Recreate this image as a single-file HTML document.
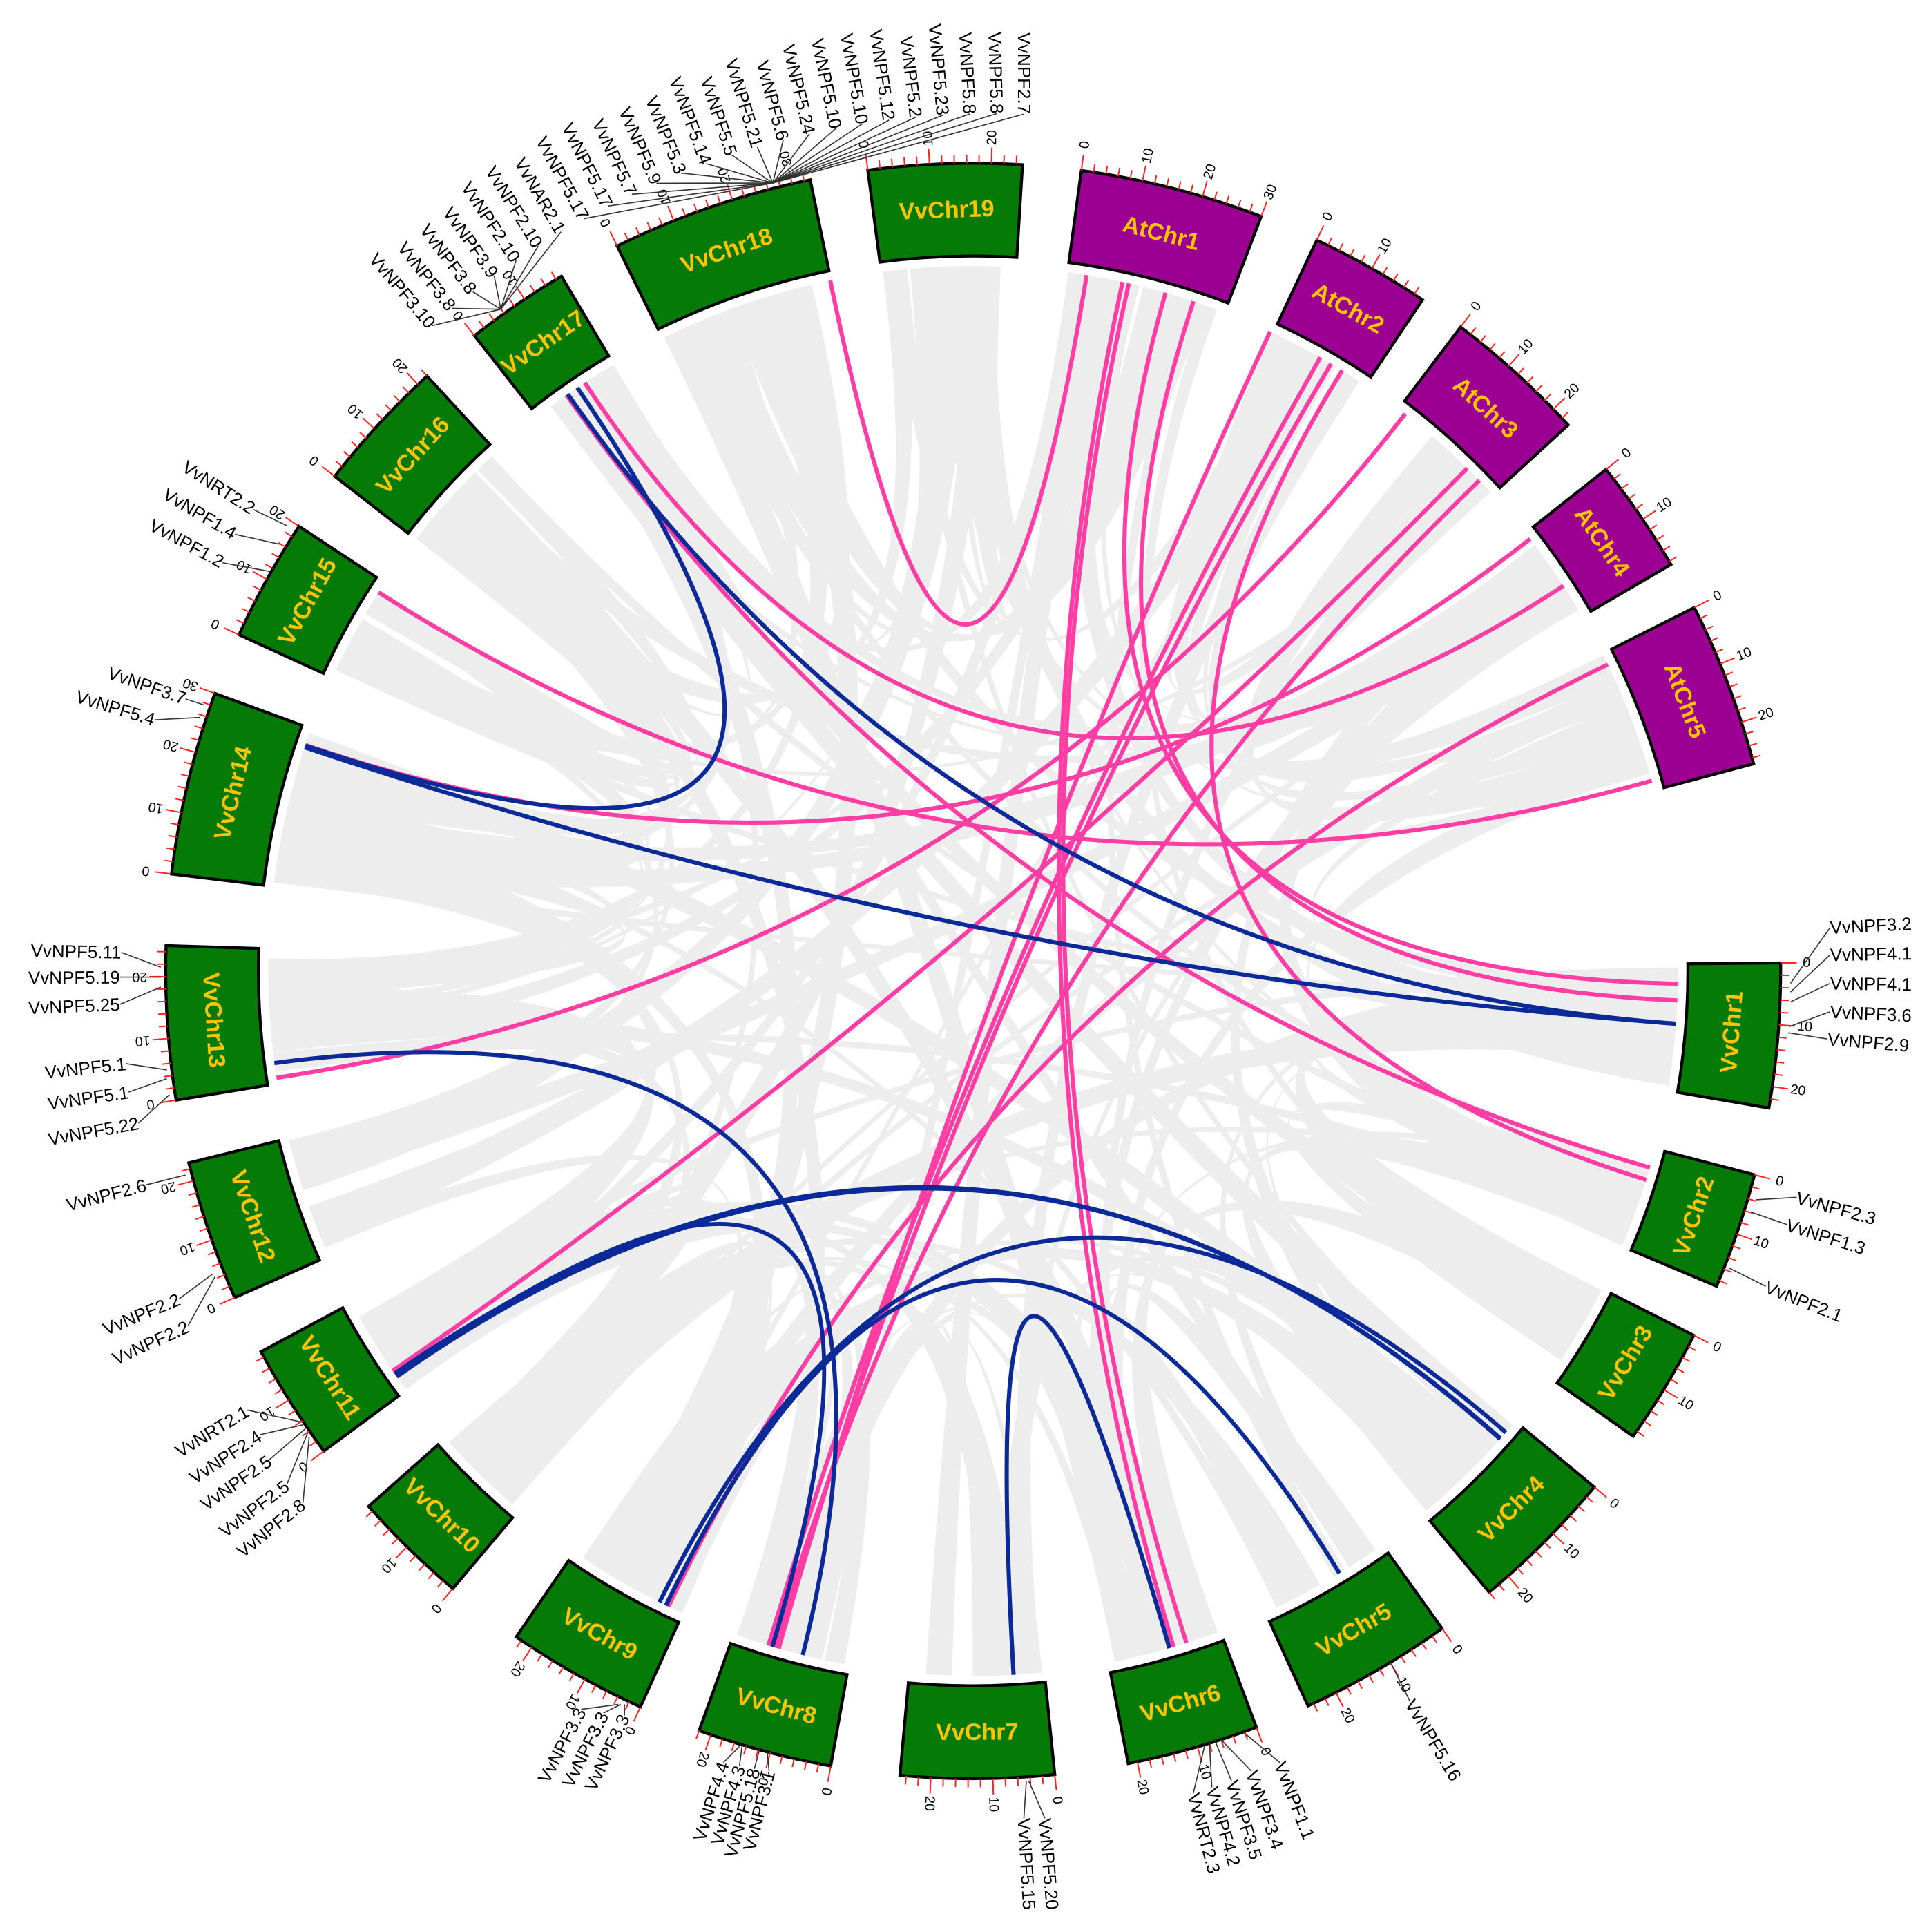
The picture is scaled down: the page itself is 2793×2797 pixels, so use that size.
<!DOCTYPE html>
<html><head><meta charset="utf-8">
<style>
html,body{margin:0;padding:0;background:#fff;}
svg{display:block;}
text{font-family:"Liberation Sans",Arial,sans-serif;}
</style></head>
<body>
<svg id="s" xmlns="http://www.w3.org/2000/svg" width="2793" height="2797" viewBox="0 0 1560 1562" preserveAspectRatio="none">
<g id="rib"></g><g id="links"></g><g id="boxes"></g><g id="ticks"></g><g id="glab"></g>
</svg>
<script>
var NS="http://www.w3.org/2000/svg";
var cx=787,cy=785,R1=578,R2=653,RL=570;
function rad(a){return a*Math.PI/180;}
function P(a,r){return [cx+r*Math.sin(rad(a)),cy-r*Math.cos(rad(a))];}
function f(p){return p[0].toFixed(1)+","+p[1].toFixed(1);}
function el(tag,attrs,parent,txt){var e=document.createElementNS(NS,tag);for(var k in attrs)e.setAttribute(k,attrs[k]);if(txt!==undefined)e.textContent=txt;document.getElementById(parent).appendChild(e);return e;}
function ang(x,y){var a=Math.atan2(x-cx,-(y-cy))*180/Math.PI;if(a<0)a+=360;return a;}
var D=0.44;
var chr=[
["VvChr19",358,25,0],["AtChr1",14.3,30,1],["AtChr2",29.5,19.6,1],["AtChr3",42.3,23.5,1],["AtChr4",55.7,18.6,1],["AtChr5",69.2,27,1],
["VvChr1",94.6,23.5,0],["VvChr2",108.8,19,0],["VvChr3",121,19,0],["VvChr4",135,24,0],["VvChr5",150,25,0],["VvChr6",164.2,21.5,0],
["VvChr7",179.7,25,0],["VvChr8",195,22,0],["VvChr9",209.4,23,0],["VvChr10",224.3,19,0],["VvChr11",237.7,19,0],["VvChr12",251.2,23,0],
["VvChr13",266.3,25,0],["VvChr14",283.5,30,0],["VvChr15",299,20,0],["VvChr16",312.6,22,0],["VvChr17",325.6,17,0],["VvChr18",341.1,33,0]];
var seed=12345;function rnd(){seed=(seed*1103515245+12345)%2147483648;return seed/2147483648;}
var rib="";
for(var i=0;i<170;i++){
 var i1=Math.floor(rnd()*chr.length),i2;
 if(rnd()<0.45){i2=(i1+(rnd()<0.5?1:-1)*(1+Math.floor(rnd()*3))+chr.length)%chr.length;}else{i2=Math.floor(rnd()*chr.length);}
 var c1=chr[i1],c2=chr[i2];
 if(c1===c2)continue;
 var s1=c1[2]*D,s2=c2[2]*D;
 var w=0.6+rnd()*2.2;
 var a1=c1[1]-s1/2+rnd()*(s1-w),b1=c2[1]-s2/2+rnd()*(s2-w);
 var p1=P(a1,RL),p2=P(a1+w,RL),q1=P(b1,RL),q2=P(b1+w,RL);
 rib+="M"+f(p1)+"A"+RL+","+RL+" 0 0 1 "+f(p2)+"Q"+cx+","+cy+" "+f(q1)+"A"+RL+","+RL+" 0 0 1 "+f(q2)+"Q"+cx+","+cy+" "+f(p1)+"Z";
}
el("path",{d:rib,fill:"#ededed",stroke:"none"},"rib");
chr.forEach(function(c){
 var s=c[2]*D,a1=c[1]-s/2,a2=c[1]+s/2;
 var d="M"+f(P(a1,R1))+"A"+R1+","+R1+" 0 0 1 "+f(P(a2,R1))+"L"+f(P(a2,R2))+"A"+R2+","+R2+" 0 0 0 "+f(P(a1,R2))+"Z";
 el("path",{d:d,fill:c[3]?"#9c0092":"#067a06",stroke:"#000","stroke-width":2.4},"boxes");
 var a=c[1],rot=(a>90&&a<270)?a-180:a;if(rot>180)rot-=360;
 var p=P(a,(R1+R2)/2);
 el("text",{x:0,y:0,transform:"translate("+f(p)+") rotate("+rot+")","text-anchor":"middle","dominant-baseline":"central","font-size":19,"font-weight":"bold",fill:"#ffc400"},"boxes",c[0]);
 var td="";
 for(var u=0;u<=c[2];u+=2){
  var aa=a1+u*D,big=(u%10==0),o=P(aa,R2),e=P(aa,R2+(big?13:7));
  td+="M"+f(o)+"L"+f(e);
  if(big){var tp=P(aa,R2+21);
   el("text",{x:0,y:0,transform:"translate("+f(tp)+") rotate("+(aa-90)+")","text-anchor":"middle","dominant-baseline":"central","font-size":11,fill:"#000"},"ticks",String(u));}
 }
 el("path",{d:td,stroke:"#ff2020","stroke-width":1.1,fill:"none"},"ticks");
});
function link(a,b,col){var p=P(ang(a[0],a[1]),RL),q=P(ang(b[0],b[1]),RL);
 el("path",{d:"M"+f(p)+"Q"+cx+","+cy+" "+f(q),stroke:col,"stroke-width":3.4,fill:"none"},"links");}
var pink="#ff3ea5",blue="#0b2a98";
[[[670,220],[880,215]],[[455,315],[1338,945]],[[470,305],[1270,470]],[[300,475],[1340,630]],[[240,600],[1245,430]],
[[220,872],[1140,330]],[[315,1110],[1190,375]],[[540,1300],[1305,535]],[[620,1335],[1070,285]],[[625,1335],[1200,385]],
[[630,1332],[1030,262]],[[950,1335],[910,218]],[[960,1330],[915,220]],[[1340,795],[945,228]],[[1338,808],[968,235]],
[[1335,955],[1090,292]],[[628,1334],[1080,288]]].forEach(function(l){link(l[0],l[1],pink);});
[[[460,320],[1360,828]],[[470,318],[245,602]],[[240,602],[1360,828]],[[218,860],[650,1335]],[[318,1115],[1215,1165]],
[[320,1110],[1210,1160]],[[320,1112],[625,1330]],[[535,1292],[1220,1160]],[[820,1360],[945,1330]],[[540,1295],[1085,1275]]].forEach(function(l){link(l[0],l[1],blue);});
function glab(name,ex,ey,ax,ay,rot,anchor){
 el("path",{d:"M"+ax+","+ay+"L"+ex+","+ey,stroke:"#333","stroke-width":0.9,fill:"none"},"glab");
 var t=ang(ex,ey);
 if(rot===null){if(t>5&&t<185){rot=t-90;anchor="start";}else{rot=t+90;anchor="end";}}
 el("text",{x:0,y:0,transform:"translate("+ex+","+ey+") rotate("+rot.toFixed(1)+")","text-anchor":anchor,"dominant-baseline":"central","font-size":14.5,fill:"#000"},"glab",name);
}
var fan=["VvNPF3.10","VvNPF3.8","VvNPF3.8","VvNPF3.9","VvNPF2.10","VvNPF2.10","VvNAR2.1","VvNPF5.17","VvNPF5.17","VvNPF5.7","VvNPF5.9","VvNPF5.3","VvNPF5.14","VvNPF5.5","VvNPF5.21","VvNPF5.6","VvNPF5.24","VvNPF5.10","VvNPF5.10","VvNPF5.12","VvNPF5.2","VvNPF5.23","VvNPF5.8","VvNPF5.8","VvNPF2.7"];
var n=fan.length;
for(var i=0;i<n;i++){var k=i/(n-1);var th=320+k*43.4,r=681+k*13;var p=P(th,r);
 var at=i<7?[405,250]:[625,148];
 glab(fan[i],p[0].toFixed(1),p[1].toFixed(1),at[0],at[1],50+k*40,"end");}
var L=[
["VvNRT2.2",205,412,232,425],["VvNPF1.4",190,432,226,440],["VvNPF1.2",180,455,218,462],
["VvNPF3.7",150,565,165,570],["VvNPF5.4",125,582,162,580],
["VvNPF5.11",98,770,130,782],["VvNPF5.19",97,790,130,790],["VvNPF5.25",97,812,130,798],
["VvNPF5.1",102,860,135,865],["VvNPF5.1",104,883,135,872],["VvNPF5.22",112,908,137,885],
["VvNPF2.6",118,958,150,950],["VvNPF2.2",145,1050,172,1030],["VvNPF2.2",152,1072,174,1032],
["VvNRT2.1",200,1140,245,1150],["VvNPF2.4",210,1160,245,1152],["VvNPF2.5",218,1180,247,1155],["VvNPF2.5",232,1200,249,1158],["VvNPF2.8",245,1215,250,1162],
["VvNPF3.3",470,1382,500,1378],["VvNPF3.3",488,1385,502,1378],["VvNPF3.3",505,1387,505,1378],
["VvNPF4.4",585,1425,598,1412],["VvNPF4.3",598,1428,600,1412],["VvNPF5.18",610,1430,615,1412],["VvNPF3.1",622,1432,620,1412],
["VvNPF5.15",828,1470,830,1440],["VvNPF5.20",845,1470,832,1440],
["VvNRT2.3",965,1450,975,1408],["VvNPF4.2",980,1445,978,1407],["VvNPF3.5",996,1440,982,1406],["VvNPF3.4",1012,1432,986,1405],["VvNPF1.1",1035,1425,1005,1400],
["VvNPF5.16",1140,1375,1125,1345],
["VvNPF2.3",1453,968,1420,970],["VvNPF1.3",1445,990,1416,980],["VvNPF2.1",1428,1040,1398,1025],
["VvNPF3.2",1480,750,1448,795],["VvNPF4.1",1480,772,1448,802],["VvNPF4.1",1480,795,1448,810],["VvNPF3.6",1480,818,1447,830],["VvNPF2.9",1478,840,1446,835]];
L.forEach(function(l){glab(l[0],l[1],l[2],l[3],l[4],null,null);});
</script>
</body></html>
